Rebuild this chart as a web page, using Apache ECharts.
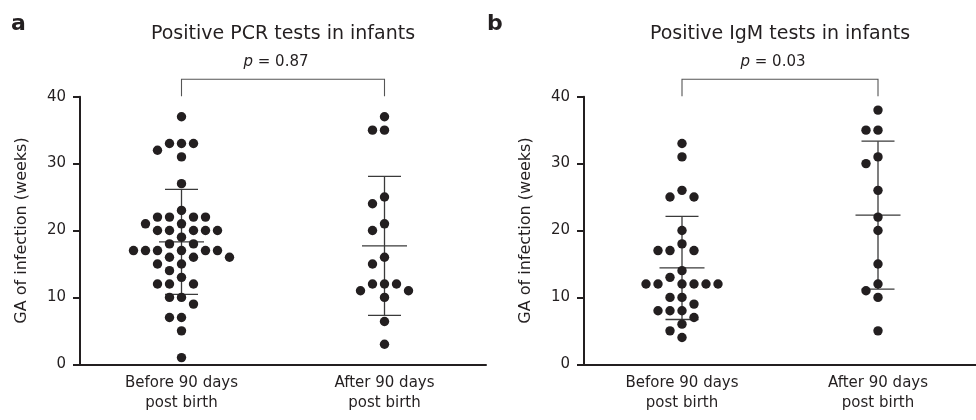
<!DOCTYPE html>
<html>
<head>
<meta charset="utf-8">
<script src="https://cdn.jsdelivr.net/npm/echarts@6/dist/echarts.min.js"></script>
<style>html,body{margin:0;padding:0;background:#fff;}#c{width:976px;height:420px;}</style>
</head>
<body>
<div id="c"></div>
<script>
const categories = ['Before 90 days\npost birth', 'After 90 days\npost birth'];
const panelLetters = ['a', 'b'];
const titles = ['Positive PCR tests in infants', 'Positive IgM tests in infants'];
const pValues = ['0.87', '0.03'];
const yAxisName = 'GA of infection (weeks)';
const yMin = 0, yMax = 40, yStep = 10;

// Panel a: positive PCR tests (GA of infection, weeks)
const pcrBefore = [37,33,33,33,32,31,27,23,22,22,22,22,21,21,20,20,20,20,20,19,18,18,
  17,17,17,17,17,17,16,16,16,15,15,14,13,12,12,12,10,10,9,7,7,5,1];
const pcrAfter = [37,35,35,25,24,21,20,16,15,12,12,12,11,11,10,6.4,3];
const pcrMean = [18.3, 17.7];
const pcrSD = [7.85, 10.4];

// Panel b: positive IgM tests
const igmBefore = [33,31,26,25,25,20,18,17,17,17,14,13,12,12,12,12,12,12,10,10,9,8,8,8,7,6,5,4];
const igmAfter = [38,35,35,31,30,26,22,20,15,12,11,10,5];
const igmMean = [14.4, 22.3];
const igmSD = [7.7, 11.05];

const AX = '#231f20';
const FONT = 'DejaVu Sans';

// beeswarm layout in pixel space (values -> x offsets in px)
function swarm(values, ppu, step, dia) {
  const order = values.map((v, i) => i).sort((a, b) => values[b] - values[a]);
  const placed = [];
  const off = new Array(values.length).fill(0);
  order.forEach(i => {
    const y = values[i] * ppu;
    for (let k = 0; k < 100; k++) {
      const cands = k === 0 ? [0] : [-k * step, k * step];
      let found = null;
      for (const dx of cands) {
        if (placed.every(p => Math.hypot(p.x - dx, p.y - y) >= dia)) { found = dx; break; }
      }
      if (found !== null) { off[i] = found; placed.push({x: found, y: y}); break; }
    }
  });
  return off;
}

const cache = {};
function dotSeries(values, ci, gi, key) {
  return {
    type: 'custom',
    xAxisIndex: gi, yAxisIndex: gi,
    z: 5,
    data: values.map(v => [ci, v]),
    encode: {x: 0, y: 1},
    renderItem: function (params, api) {
      const ppu = api.size([0, 1])[1];
      if (!cache[key] || cache[key].ppu !== ppu) {
        cache[key] = {ppu: ppu, off: swarm(values, ppu, 6, 10.2)};
      }
      const p = api.coord([api.value(0), api.value(1)]);
      return {
        type: 'circle',
        shape: {cx: p[0] + cache[key].off[params.dataIndex], cy: p[1], r: 4.7},
        style: {fill: AX}
      };
    }
  };
}

function seg(x1, y1, x2, y2, color, w) {
  return {type: 'line', shape: {x1: x1, y1: y1, x2: x2, y2: y2}, style: {stroke: color, lineWidth: w}};
}

function statSeries(means, sds, gi) {
  return {
    type: 'custom',
    xAxisIndex: gi, yAxisIndex: gi,
    z: 3,
    data: means.map((m, i) => [i, m, sds[i]]),
    encode: {x: 0, y: 1},
    renderItem: function (params, api) {
      const x = api.value(0), m = api.value(1), s = api.value(2);
      const c = api.coord([x, m]);
      const t = api.coord([x, m + s]);
      const b = api.coord([x, m - s]);
      const col = '#3a3a3a';
      return {type: 'group', children: [
        seg(c[0], t[1], c[0], b[1], col, 1.3),
        seg(c[0] - 22.5, c[1], c[0] + 22.5, c[1], col, 1.3),
        seg(c[0] - 16.5, t[1], c[0] + 16.5, t[1], col, 1.3),
        seg(c[0] - 16.5, b[1], c[0] + 16.5, b[1], col, 1.3)
      ]};
    }
  };
}

function headerSeries(gi) {
  return {
    type: 'custom',
    xAxisIndex: gi, yAxisIndex: gi,
    z: 2, clip: false, silent: true,
    data: [[0, yMax]],
    encode: {x: 0, y: 1},
    renderItem: function (params, api) {
      const a = api.coord([0, yMax]);
      const b = api.coord([1, yMax]);
      const ty = a[1] - 17.5;
      const mx = (a[0] + b[0]) / 2;
      return {type: 'group', children: [
        {type: 'polyline', shape: {points: [[a[0], a[1] - 0.5], [a[0], ty], [b[0], ty], [b[0], a[1] - 0.5]]},
          style: {stroke: '#555', lineWidth: 1.1, fill: null}},
        {type: 'text', x: mx - 7, y: ty - 17, style: {
          text: '{i|p} = ' + pValues[gi], align: 'center', verticalAlign: 'middle',
          fill: AX, font: '15px "DejaVu Sans"',
          rich: {i: {fontStyle: 'italic', fontSize: 15, fontFamily: FONT, fill: AX}}
        }},
        {type: 'text', x: mx, y: ty - 45, style: {
          text: titles[gi], align: 'center', verticalAlign: 'middle',
          fill: AX, font: '19px "DejaVu Sans"'
        }}
      ]};
    }
  };
}

function yAxis(gi) {
  return {
    type: 'value', gridIndex: gi, min: yMin, max: yMax, interval: yStep,
    name: yAxisName, nameLocation: 'middle', nameGap: 50, nameRotate: 90,
    nameTextStyle: {fontSize: 16, color: AX, fontFamily: FONT},
    axisLine: {show: true, lineStyle: {color: AX, width: 2}},
    axisTick: {show: true, length: 7, lineStyle: {color: AX, width: 2}},
    axisLabel: {fontSize: 15, color: AX, fontFamily: FONT, margin: 14},
    splitLine: {show: false}
  };
}
function xAxis(gi) {
  return {
    type: 'category', gridIndex: gi, data: categories, boundaryGap: true,
    axisLine: {lineStyle: {color: AX, width: 2}},
    axisTick: {alignWithLabel: true, length: 6, lineStyle: {color: AX, width: 2}},
    axisLabel: {fontSize: 15, lineHeight: 20, color: AX, fontFamily: FONT, margin: 9, interval: 0}
  };
}

const chart = echarts.init(document.getElementById('c'), null, {renderer: 'canvas'});
chart.setOption({
  animation: false,
  backgroundColor: '#fff',
  grid: [
    {left: 80, top: 96.7, width: 406, height: 267.6},
    {left: 584, top: 96.7, width: 405, height: 267.6}
  ],
  xAxis: [xAxis(0), xAxis(1)],
  yAxis: [yAxis(0), yAxis(1)],
  graphic: [
    {type: 'text', left: 11, top: 13, style: {text: panelLetters[0], font: 'bold 22px "DejaVu Sans"', fill: AX}},
    {type: 'text', left: 487, top: 13, style: {text: panelLetters[1], font: 'bold 22px "DejaVu Sans"', fill: AX}}
  ],
  series: [
    headerSeries(0), headerSeries(1),
    statSeries(pcrMean, pcrSD, 0), statSeries(igmMean, igmSD, 1),
    dotSeries(pcrBefore, 0, 0, 'a0'), dotSeries(pcrAfter, 1, 0, 'a1'),
    dotSeries(igmBefore, 0, 1, 'b0'), dotSeries(igmAfter, 1, 1, 'b1')
  ]
});
</script>
</body>
</html>
